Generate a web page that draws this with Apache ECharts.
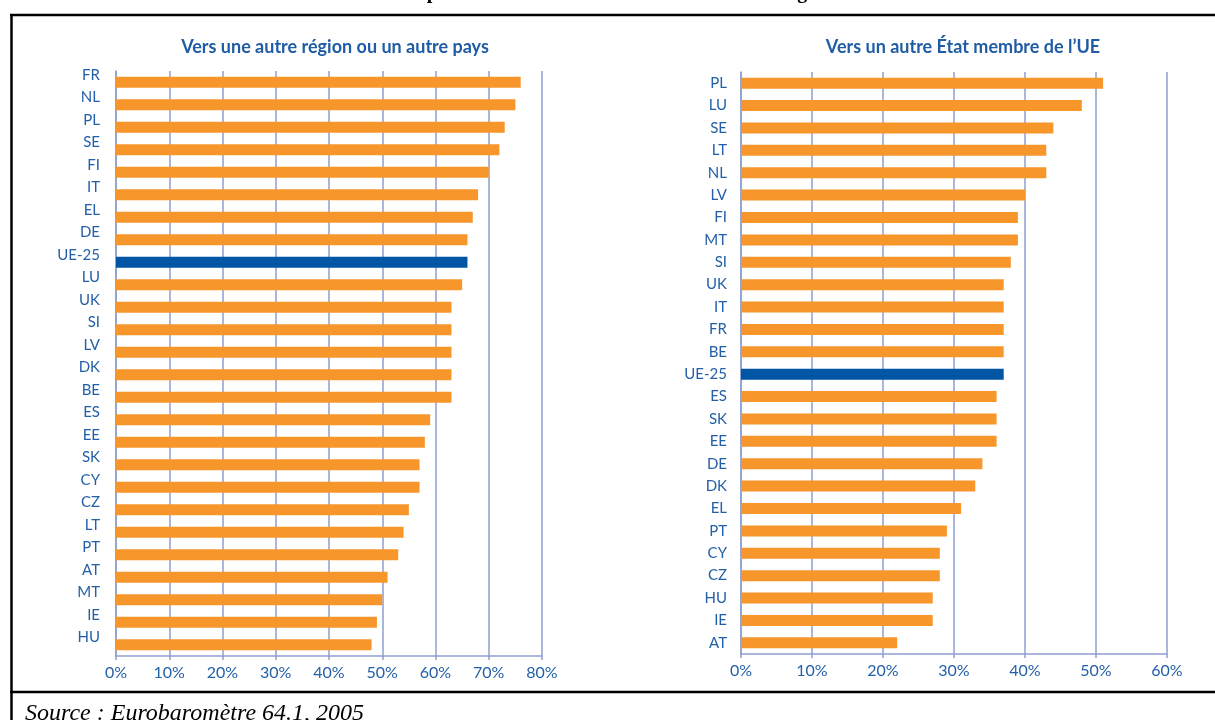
<!DOCTYPE html>
<html>
<head>
<meta charset="utf-8">
<script src="https://cdn.jsdelivr.net/npm/echarts@6/dist/echarts.min.js"></script>
<style>
  html, body { margin: 0; padding: 0; background: #fff; }
  #chart { width: 1215px; height: 720px; }
</style>
</head>
<body>
<div id="chart"></div>
<script>
// Vers une autre région ou un autre pays
const regionCats = ['FR', 'NL', 'PL', 'SE', 'FI', 'IT', 'EL', 'DE', 'UE-25', 'LU', 'UK', 'SI', 'LV',
  'DK', 'BE', 'ES', 'EE', 'SK', 'CY', 'CZ', 'LT', 'PT', 'AT', 'MT', 'IE', 'HU']
const regionVals = [76, 75, 73, 72, 70, 68, 67, 66, 66, 65, 63, 63, 63,
  63, 63, 59, 58, 57, 57, 55, 54, 53, 51, 50, 49, 48]

// Vers un autre État membre de l'UE
const ueCats = ['PL', 'LU', 'SE', 'LT', 'NL', 'LV', 'FI', 'MT', 'SI', 'UK', 'IT', 'FR', 'BE',
  'UE-25', 'ES', 'SK', 'EE', 'DE', 'DK', 'EL', 'PT', 'CY', 'CZ', 'HU', 'IE', 'AT']
const ueVals = [51, 48, 44, 43, 43, 40, 39, 39, 38, 37, 37, 37, 37,
  37, 36, 36, 36, 34, 33, 31, 29, 28, 28, 27, 27, 22]

const orange = '#f7962b'
const ueBlue = '#0055a4'
const textBlue = '#2460a7'
const gridBlue = '#8e9fcf'
const font = 'Lato, "Open Sans", sans-serif'

const myChart = echarts.init(document.getElementById('chart'))

// couleur de chaque barre (UE-25 en bleu)
const barData = (cats, vals) => vals.map((v, i) => ({
  value: v,
  itemStyle: { color: cats[i] === 'UE-25' ? ueBlue : orange }
}))

const xAxisFor = (gridIndex, max) => ({
  type: 'value',
  gridIndex,
  min: 0,
  max,
  interval: 10,
  axisLabel: {
    formatter: '{value}%',
    color: textBlue,
    fontFamily: font,
    fontSize: 16,
    margin: 9
  },
  axisLine: { show: true, lineStyle: { color: gridBlue, width: 1.5 } },
  axisTick: { show: true, length: 4, lineStyle: { color: gridBlue, width: 1.5 } },
  splitLine: { show: true, lineStyle: { color: gridBlue, width: 1.5 } }
})

const yAxisFor = (gridIndex, cats, shifted) => ({
  type: 'category',
  gridIndex,
  data: cats,
  inverse: true,
  axisLine: { show: true, lineStyle: { color: gridBlue, width: 1.5 } },
  axisTick: { show: false },
  axisLabel: {
    color: textBlue,
    fontFamily: font,
    fontSize: 15,
    margin: shifted ? 16 : 14,
    verticalAlign: shifted ? 'bottom' : 'middle',
    lineHeight: 15
  }
})

const option = {
  animation: false,
  title: [
    {
      text: 'Vers une autre région ou un autre pays',
      left: 330,
      top: 33,
      textAlign: 'center',
      textStyle: { color: '#1f5ca3', fontFamily: font, fontWeight: 'bold', fontSize: 18 }
    },
    {
      text: 'Vers un autre État membre de l’UE',
      left: 958,
      top: 33,
      textAlign: 'center',
      textStyle: { color: '#1f5ca3', fontFamily: font, fontWeight: 'bold', fontSize: 18 }
    }
  ],
  grid: [
    { left: 116, right: 673, top: 71, bottom: 64 },
    { left: 741, right: 48, top: 72, bottom: 66 }
  ],
  xAxis: [xAxisFor(0, 80), xAxisFor(1, 60)],
  yAxis: [yAxisFor(0, regionCats, true), yAxisFor(1, ueCats, false)],
  series: [
    {
      type: 'bar',
      xAxisIndex: 0,
      yAxisIndex: 0,
      barWidth: 11,
      data: barData(regionCats, regionVals)
    },
    {
      type: 'bar',
      xAxisIndex: 1,
      yAxisIndex: 1,
      barWidth: 11,
      data: barData(ueCats, ueVals)
    }
  ],
  graphic: [
    // titre principal (coupé en haut)
    {
      type: 'text',
      left: 'center',
      top: -17,
      style: {
        text: 'Disposition à s’établir ailleurs en cas de chômage',
        font: 'bold 20px "Liberation Serif", "DejaVu Serif", serif',
        fill: '#000'
      }
    },
    // cadre
    { type: 'line', shape: { x1: 10, y1: 15, x2: 1215, y2: 15 }, style: { stroke: '#000', lineWidth: 2.5 } },
    { type: 'line', shape: { x1: 11.5, y1: 14, x2: 11.5, y2: 720 }, style: { stroke: '#000', lineWidth: 2.5 } },
    { type: 'line', shape: { x1: 10, y1: 692, x2: 1215, y2: 692 }, style: { stroke: '#000', lineWidth: 2.5 } },
    // source
    {
      type: 'text',
      left: 25,
      top: 702,
      style: {
        text: 'Source : Eurobaromètre 64.1, 2005',
        font: 'italic 24px "Liberation Serif", "DejaVu Serif", serif',
        fill: '#000'
      }
    }
  ]
}

myChart.setOption(option)

window.addEventListener('resize', () => {
  myChart.resize()
})
</script>
</body>
</html>
